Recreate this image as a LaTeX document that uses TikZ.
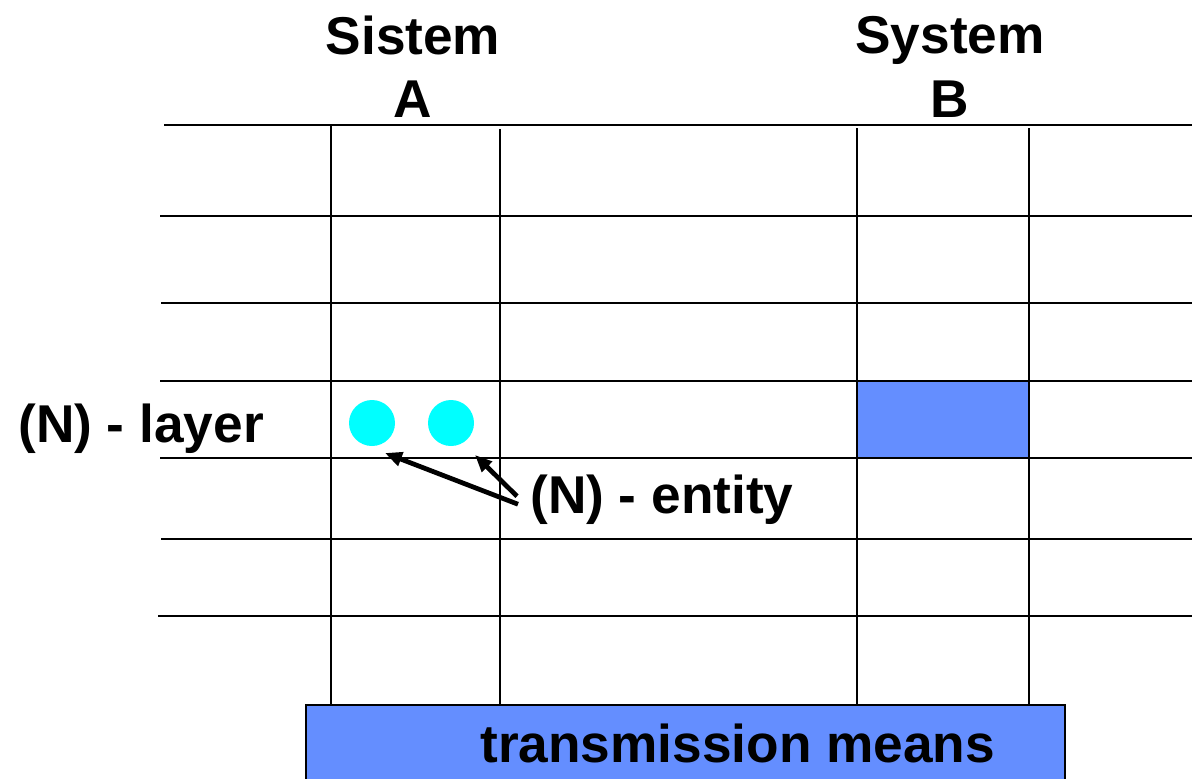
\documentclass[tikz,border=0pt]{standalone}
\usepackage{fontspec}
\setmainfont{Liberation Sans}
\usepackage{tikz}
\usetikzlibrary{calc,arrows.meta}
\definecolor{layerblue}{RGB}{100,142,255}
\definecolor{entcyan}{RGB}{0,255,255}

\tikzset{
  grid/.style={line width=1.4pt},
  entity/.style={fill=entcyan,circle,inner sep=0pt,minimum size=0.92cm},
  lbl/.style={inner sep=0pt,font=\fontsize{30.3}{36}\selectfont\bfseries},
  arr/.style={line width=2.7pt,-{Triangle[length=0.34cm,width=0.28cm]}}
}

\begin{document}
\begin{tikzpicture}[x=0.02cm,y=-0.02cm]
\useasboundingbox (0,0) rectangle (1192,778);

% (N)-layer of system B
\fill[layerblue] (857,381) rectangle (1029,458);

% layers
\draw[grid] (164,125) to (1192,125);
\draw[grid] (160,216) to (1192,216);
\draw[grid] (161,303) to (1192,303);
\draw[grid] (160,381) to (1192,381);
\draw[grid] (160,458) to (1192,458);
\draw[grid] (161,539) to (1192,539);
\draw[grid] (158,616) to (1192,616);

% systems
\draw[grid] (331,125) to (331,705);
\draw[grid] (500,129) to (500,705);
\draw[grid] (857,128) to (857,705);
\draw[grid] (1029,128) to (1029,705);

%%% transmission means %%%
\draw[line width=1.4pt,fill=layerblue] (306,705) rectangle (1065,782);
\node (TM) at (480,762) [lbl,anchor=base west] {transmission means};

  \node (SA) at (413,67) [lbl,align=center] {Sistem\\A};
  \node (SB) at (950,67) [lbl,align=center] {System\\B};
  \node (Lay) at (18,442) [lbl,anchor=base west] {(N) - layer};
  \node (Ent) at (530,513) [lbl,anchor=base west] {(N) - entity};

  \node (E1) at (372,423) [entity] {};
  \node (E2) at (451,423) [entity] {};

\draw[arr] ($(Ent.west)+(-12,5)$) to ($(E1)+(13,30)$);
\draw[arr] ($(Ent.west)+(-13,-3)$) to ($(E2)+(24,32)$);
\end{tikzpicture}
\end{document}
